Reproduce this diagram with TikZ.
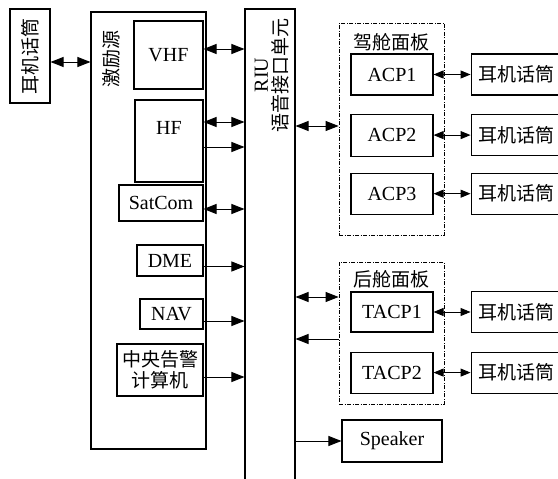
\documentclass[tikz,border=0pt]{standalone}
\usepackage{fontspec}
\setmainfont{Liberation Serif}
\newfontfamily\cjk{Noto Sans CJK SC}
\usetikzlibrary{arrows.meta, positioning}

\begin{document}
\begin{tikzpicture}[
        x=1pt, y=-1pt,
        node distance=18pt and 37pt,
        font=\fontsize{20}{23}\selectfont,
        unit/.style={rectangle, draw=black, line width=1.1pt, inner sep=0pt, align=center},
        panel/.style={rectangle, draw=black, line width=0.8pt, dash pattern=on 4pt off 1.5pt on 1pt off 1.5pt, inner sep=0pt},
        headset/.style={unit, minimum width=90pt, minimum height=41pt, font=\cjk\fontsize{19}{23}\selectfont},
        dbl/.style={{Triangle[length=13pt,width=10pt]}-{Triangle[length=13pt,width=10pt]}, line width=0.9pt},
        sgl/.style={-{Triangle[length=13pt,width=10pt]}, line width=0.9pt},
        dblsm/.style={{Triangle[length=10pt,width=8pt]}-{Triangle[length=10pt,width=8pt]}, line width=0.9pt},
        ]
        \clip (0,0) rectangle (558,479);

        % Left headset and excitation source
        \node[unit, rotate=90, minimum width=94pt, minimum height=40pt, font=\cjk\fontsize{19}{23}\selectfont] (hs0) at (30,56) {耳机话筒};
        \node[unit, minimum width=115pt, minimum height=437pt] (exc) at (148.5,230.5) {};
        \node[rotate=90, font=\cjk\fontsize{19}{23}\selectfont] (exclabel) at (111,59) {激励源};

        % Radio units inside the source
        \node[unit, minimum width=69pt, minimum height=68pt] (vhf) at (168.5,55) {VHF};
        \node[unit, minimum width=68pt, minimum height=82pt, text depth=26pt] (hf) at (169,141) {HF};
        \node[unit, minimum width=84pt, minimum height=36pt] (sat) at (161,203) {SatCom};
        \node[unit, minimum width=66pt, minimum height=31pt] (dme) at (170,260.5) {DME};
        \node[unit, minimum width=63pt, minimum height=30pt] (nav) at (171.5,314) {NAV};
        \node[unit, minimum width=86pt, minimum height=52pt, font=\cjk\fontsize{19}{21}\selectfont] (cwc) at (160,370) {中央告警\\计算机};

        % RIU bus
        \node[unit, minimum width=50pt, minimum height=481pt] (riu) at (270,249.5) {};
        \node[rotate=90, align=center, font=\fontsize{20}{20}\selectfont] (riulabel) at (272,75) {RIU\\{\cjk\fontsize{19}{20}\selectfont 语音接口单元}};

        % Cockpit panel
        \node[panel, minimum width=105pt, minimum height=212pt] (cp) at (391.5,129) {};
        \node[font=\cjk\fontsize{19}{23}\selectfont] (cplabel) at (391.5,42) {驾舱面板};
        \node[unit, minimum width=82pt, minimum height=41pt] (acp1) at (392,74.5) {ACP1};
        \node[unit, minimum width=82pt, minimum height=42pt, below=18pt of acp1] (acp2) {ACP2};
        \node[unit, minimum width=82pt, minimum height=41pt, below=16pt of acp2] (acp3) {ACP3};
        \node[headset, right=of acp1] (cphs1) {耳机话筒};
        \node[headset, right=of acp2] (cphs2) {耳机话筒};
        \node[headset, right=of acp3] (cphs3) {耳机话筒};

        % Rear panel
        \node[panel, minimum width=105pt, minimum height=142pt] (rp) at (391.5,333) {};
        \node[font=\cjk\fontsize{19}{23}\selectfont] (rplabel) at (391.5,279) {后舱面板};
        \node[unit, minimum width=82pt, minimum height=40pt] (tacp1) at (392,312) {TACP1};
        \node[unit, minimum width=82pt, minimum height=41pt, below=19pt of tacp1] (tacp2) {TACP2};
        \node[headset, right=of tacp1] (rphs1) {耳机话筒};
        \node[headset, right=of tacp2] (rphs2) {耳机话筒};

        % Speaker
        \node[unit, minimum width=100pt, minimum height=42pt] (spk) at (392,441) {Speaker};

        % Connectors on the source side
        \draw[dbl] ([yshift=-6pt]hs0.south) -- ([yshift=-6pt]hs0.south -| exc.west);
        \draw[dbl] ([yshift=6pt]vhf.east) -- ([yshift=6pt]vhf.east -| riu.west);
        \draw[dbl] ([yshift=19pt]hf.east) -- ([yshift=19pt]hf.east -| riu.west);
        \draw[sgl] ([yshift=-6pt]hf.east) -- ([yshift=-6pt]hf.east -| riu.west);
        \draw[dbl] ([yshift=-6pt]sat.east) -- ([yshift=-6pt]sat.east -| riu.west);
        \foreach \n/\s in {dme/-6, nav/-7, cwc/-7}
            \draw[sgl] ([yshift=\s pt]\n.east) -- ([yshift=\s pt]\n.east -| riu.west);

        % Connectors on the panel side
        \draw[dbl] ([yshift=3pt]cp.west -| riu.east) -- ([yshift=3pt]cp.west);
        \foreach \i in {1,2,3}
            \draw[dblsm] (acp\i.east) -- (acp\i.east -| cphs\i.west);
        \draw[dbl] ([yshift=36pt]rp.west -| riu.east) -- ([yshift=36pt]rp.west);
        \draw[sgl] ([yshift=-6pt]rp.west) -- ([yshift=-6pt]rp.west -| riu.east);
        \foreach \i in {1,2}
            \draw[dblsm] (tacp\i.east) -- (tacp\i.east -| rphs\i.west);
        \draw[sgl] (spk.west -| riu.east) -- (spk.west);

    \end{tikzpicture}
\end{document}
